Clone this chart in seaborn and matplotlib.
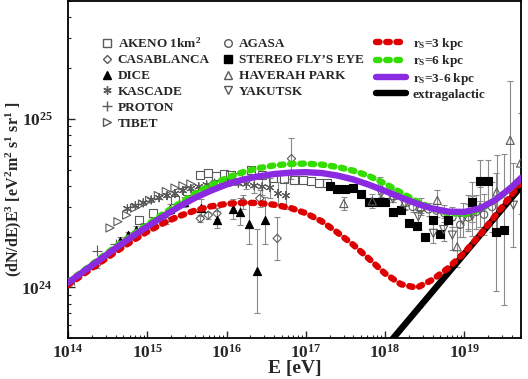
import numpy as np
import matplotlib
matplotlib.use("Agg")
import matplotlib.pyplot as plt
import seaborn as sns
from matplotlib.lines import Line2D

sns.set_style("ticks")
plt.rcParams['font.family'] = ['Liberation Serif', 'DejaVu Serif']
plt.rcParams['font.weight'] = 'bold'
plt.rcParams['mathtext.fontset'] = 'custom'
plt.rcParams['mathtext.rm'] = 'Liberation Serif:bold'
plt.rcParams['mathtext.it'] = 'Liberation Serif:italic:bold'
plt.rcParams['mathtext.bf'] = 'Liberation Serif:bold'

# ---- model curves: log10(E/eV) and log10(E^3 dN/dE) ----
curve_logE = [14.0, 14.2, 14.4, 14.6, 14.8, 15.0, 15.2, 15.4, 15.6, 15.8,
              16.0, 16.2, 16.4, 16.6, 16.8, 17.0, 17.2, 17.4, 17.6, 17.8,
              18.0, 18.2, 18.4, 18.6, 18.8, 19.0, 19.2, 19.4, 19.6, 19.72]
rs3 = [24.014, 24.08, 24.145, 24.21, 24.272, 24.33, 24.38, 24.422, 24.455, 24.48,
       24.495, 24.502, 24.5, 24.49, 24.472, 24.44, 24.392, 24.325, 24.252, 24.168,
       24.082, 24.018, 23.997, 24.045, 24.115, 24.205, 24.312, 24.43, 24.55, 24.628]
rs6 = [24.03, 24.10, 24.17, 24.24, 24.307, 24.372, 24.435, 24.495, 24.555, 24.605,
       24.648, 24.682, 24.707, 24.723, 24.732, 24.734, 24.728, 24.714, 24.692, 24.66,
       24.615, 24.562, 24.51, 24.468, 24.44, 24.435, 24.462, 24.518, 24.595, 24.65]
rs36 = [24.027, 24.095, 24.163, 24.232, 24.298, 24.36, 24.42, 24.478, 24.53, 24.573,
        24.61, 24.638, 24.658, 24.672, 24.68, 24.683, 24.678, 24.663, 24.64, 24.608,
        24.572, 24.533, 24.497, 24.467, 24.449, 24.447, 24.468, 24.52, 24.595, 24.65]
extra_logE = [18.0, 19.72]
extra = [23.64, 24.60]

# ---- data: log10(E/eV), flux in units of 1e24, error in dex ----
akeno_logE = [14.9, 15.07, 15.35, 15.5, 15.67, 15.77, 15.87, 15.97, 16.05, 16.15,
              16.31, 16.45, 16.59, 16.72, 16.85, 16.97, 17.07, 17.17, 17.27]
akeno = [2.5, 2.75, 3.3, 3.75, 4.65, 4.76, 4.6, 4.7, 4.65, 4.5,
         4.94, 4.62, 4.48, 4.4, 4.31, 4.31, 4.26, 4.16, 4.16]

casa_logE = [14.36, 15.24, 15.67, 15.77, 15.88, 16.21, 16.42, 16.64, 16.82]
casa = [1.36, 2.5, 2.56, 2.68, 2.74, 3.21, 3.37, 1.95, 5.8]
casa_err = [0.02, 0.02, 0.02, 0.02, 0.03, 0.04, 0.05, 0.13, 0.12]

dice_logE = [14.66, 14.76, 14.86, 14.95, 15.29, 15.47, 15.68, 15.88, 16.08,
             16.17, 16.28, 16.38, 16.48]
dice = [1.89, 2.04, 2.2, 2.29, 2.9, 3.21, 2.97, 2.52, 2.9, 2.8, 2.39, 1.25, 2.5]
dice_err = [0.02, 0.02, 0.02, 0.02, 0.03, 0.03, 0.05, 0.05, 0.06, 0.08, 0.12,
            0.25, 0.14]

kascade_logE = [14.75, 14.85, 14.95, 15.05, 15.15, 15.25, 15.35, 15.45, 15.55,
                15.65, 15.75, 15.85, 15.95, 16.05, 16.15, 16.25, 16.35, 16.45,
                16.55, 16.65, 16.75]
kascade = [2.93, 3.05, 3.17, 3.3, 3.4, 3.5, 3.6, 3.75, 3.85, 3.95, 4.05, 4.15,
           4.2, 4.2, 4.15, 4.1, 4.0, 3.95, 3.9, 3.6, 3.5]
kascade_err = [0.01] * 15 + [0.03, 0.04, 0.05, 0.06, 0.07, 0.08]

proton_logE = [14.08, 14.37, 14.6]
proton = [1.1, 1.65, 1.8]

tibet_logE = [14.53, 14.63, 14.74, 14.84, 14.94, 15.03, 15.14, 15.24, 15.35,
              15.45, 15.55]
tibet = [2.25, 2.45, 2.68, 2.95, 3.12, 3.28, 3.5, 3.7, 3.88, 4.0, 4.1]

agasa_logE = [18.35, 18.45, 18.55, 18.65, 18.75, 18.85, 18.95, 19.05, 19.15,
              19.25, 19.35]
agasa = [3.0, 2.95, 2.9, 2.85, 2.75, 2.6, 2.35, 2.6, 2.8, 2.7, 3.0]
agasa_err = [0.03, 0.03, 0.04, 0.04, 0.05, 0.06, 0.07, 0.08, 0.1, 0.12, 0.15]

fly_logE = [17.3, 17.4, 17.5, 17.6, 17.7, 17.8, 17.9, 18.0, 18.1, 18.2, 18.3,
            18.4, 18.5, 18.6, 18.7, 18.8, 19.1, 19.2, 19.3, 19.4, 19.5]
fly = [4.0, 3.85, 3.85, 3.89, 3.6, 3.2, 3.2, 3.2, 2.8, 2.87, 2.4, 2.3, 2.0, 2.5,
       2.06, 2.5, 3.2, 4.3, 4.3, 2.13, 2.2]
fly_err = [0.0] * 16 + [0.12, 0.12, 0.12, 0.35, 0.45]

haverah_logE = [17.48, 17.84, 17.94, 18.1, 18.25, 18.45, 18.66, 18.91, 19.05,
                19.2, 19.41, 19.58, 19.71]
haverah = [3.14, 3.25, 4.0, 3.5, 3.2, 3.0, 3.28, 1.74, 2.8, 3.0, 3.68, 7.45, 5.46]
haverah_err = [0.04, 0.04, 0.05, 0.04, 0.04, 0.05, 0.06, 0.12, 0.1, 0.12, 0.22,
               0.35, 0.3]

yakutsk_logE = [17.95, 18.1, 18.25, 18.42, 18.61, 18.74, 18.85, 18.98, 19.1, 19.62]
yakutsk = [3.6, 3.35, 3.1, 2.62, 2.09, 2.2, 2.04, 2.5, 2.65, 3.07]
yakutsk_err = [0.02, 0.02, 0.03, 0.04, 0.06, 0.07, 0.09, 0.1, 0.12, 0.25]

fig = plt.figure(figsize=(5.28, 3.79), dpi=100)
ax = fig.add_axes([68 / 528, 1 - 338 / 379, 453 / 528, 337 / 379])
ax.set_xscale('log')
ax.set_yscale('log')

GREY = '#5a5a5a'


def draw_series(logE, vals, marker, filled, size, err=None):
    E = 10.0 ** np.array(logE)
    Y = np.array(vals) * 1e24
    if err is not None:
        e = np.array(err)
        ax.errorbar(E, Y, yerr=[Y - Y / 10 ** e, Y * 10 ** e - Y], fmt='none',
                    ecolor='#8a8a8a', elinewidth=0.8, capsize=2, capthick=0.8,
                    zorder=2)
    sns.scatterplot(x=E, y=Y, marker=marker, s=size,
                    color='black' if filled else GREY, linewidth=0.8,
                    ax=ax, zorder=3, legend=False)
    coll = ax.collections[-1]
    if filled:
        coll.set_facecolor('black')
        coll.set_edgecolor('black')
    else:
        coll.set_facecolor('none')
        coll.set_edgecolor(GREY)


draw_series(akeno_logE, akeno, 's', False, 34)
draw_series(casa_logE, casa, 'D', False, 18, casa_err)
draw_series(dice_logE, dice, '^', True, 34, dice_err)
draw_series(kascade_logE, kascade, (6, 2, 0), False, 34, kascade_err)
draw_series(proton_logE, proton, '+', False, 55)
draw_series(tibet_logE, tibet, '>', False, 34)
draw_series(agasa_logE, agasa, 'o', False, 28, agasa_err)
draw_series(fly_logE, fly, 's', True, 34, fly_err)
draw_series(haverah_logE, haverah, '^', False, 34, haverah_err)
draw_series(yakutsk_logE, yakutsk, 'v', False, 34, yakutsk_err)

bead = (0, (0.55, 1.05))
curves = [
    (extra_logE, extra, 'black', '-', 'extragalactic'),
    (curve_logE, rs3, '#dd0000', bead, r'r$_{\mathrm{S}}$=3 kpc'),
    (curve_logE, rs6, '#33dd00', bead, r'r$_{\mathrm{S}}$=6 kpc'),
    (curve_logE, rs36, '#8a2be2', '-', r'r$_{\mathrm{S}}$=3-6 kpc'),
]
curve_handles = []
for lx, ly, col, ls, lab in curves:
    sns.lineplot(x=10.0 ** np.array(lx), y=10.0 ** np.array(ly), color=col,
                 lw=4.6, linestyle=ls, dash_capstyle='round',
                 solid_capstyle='round', sort=False, estimator=None, ax=ax,
                 zorder=4)
    curve_handles.append(Line2D([], [], color=col, lw=4.6, linestyle=ls,
                                dash_capstyle='round', solid_capstyle='round',
                                label=lab))
# legend order: red, green, purple, black
curve_handles = curve_handles[1:] + curve_handles[:1]

ax.set_xlim(1e14, 5.2e19)
ax.set_ylim(5e23, 5e25)

ax.set_xticks([10.0 ** k for k in range(14, 20)])
ax.set_xticklabels([r'$10^{%d}$' % k for k in range(14, 20)])
ax.set_yticks([1e24, 1e25])
ax.set_yticklabels([r'$10^{24}$', r'$10^{25}$'])
ax.tick_params(which='both', direction='in', top=False, right=False,
               labelsize=12.5)
ax.tick_params(which='major', length=5, width=1)
ax.tick_params(which='minor', length=2.5, width=0.8)
ax.tick_params(axis='y', pad=11)
ax.tick_params(axis='x', pad=4)
for sp in ax.spines.values():
    sp.set_linewidth(1.3)
    sp.set_color('black')

ax.set_xlabel('E [eV]', fontsize=14, fontweight='bold')
ax.set_ylabel(r'(dN/dE)E$^{3}$ [eV$^{2}$m$^{2}$ s$^{1}$ sr$^{1}$ ]',
              fontsize=11.5, fontweight='bold')
ax.yaxis.set_label_coords(-0.098, 0.44)
ax.xaxis.set_label_coords(0.5, -0.065)

# data legend, two columns
data_handles = [
    Line2D([], [], ls='none', marker='s', mfc='none', mec=GREY, ms=5.5, label=r'AKENO 1km$^{2}$'),
    Line2D([], [], ls='none', marker='D', mfc='none', mec=GREY, ms=4, label='CASABLANCA'),
    Line2D([], [], ls='none', marker='^', mfc='black', mec='black', ms=5.5, label='DICE'),
    Line2D([], [], ls='none', marker=(6, 2, 0), mfc='none', mec=GREY, ms=6, label='KASCADE'),
    Line2D([], [], ls='none', marker='+', mfc='none', mec=GREY, ms=7, label='PROTON'),
    Line2D([], [], ls='none', marker='>', mfc='none', mec=GREY, ms=5.5, label='TIBET'),
    Line2D([], [], ls='none', marker='o', mfc='none', mec=GREY, ms=5.5, label='AGASA'),
    Line2D([], [], ls='none', marker='s', mfc='black', mec='black', ms=5.5, label='STEREO FLY\u2019S EYE'),
    Line2D([], [], ls='none', marker='^', mfc='none', mec=GREY, ms=5.5, label='HAVERAH PARK'),
    Line2D([], [], ls='none', marker='v', mfc='none', mec=GREY, ms=5.5, label='YAKUTSK'),
    Line2D([], [], ls='none', label=' '),
    Line2D([], [], ls='none', label=' '),
]
leg1 = ax.legend(handles=data_handles, ncol=2, loc='upper left',
                 bbox_to_anchor=(0.075, 0.897), frameon=False,
                 prop={'weight': 'bold', 'size': 9.5}, handlelength=0.8,
                 handletextpad=0.4, labelspacing=0.28, columnspacing=1.0,
                 borderaxespad=0, borderpad=0)
ax.add_artist(leg1)
ax.legend(handles=curve_handles, loc='upper left', bbox_to_anchor=(0.68, 0.897),
          frameon=False, prop={'weight': 'bold', 'size': 9.5}, handlelength=2.3,
          handletextpad=0.5, labelspacing=0.12, borderaxespad=0, borderpad=0)

fig.savefig('out.png', dpi=100)
